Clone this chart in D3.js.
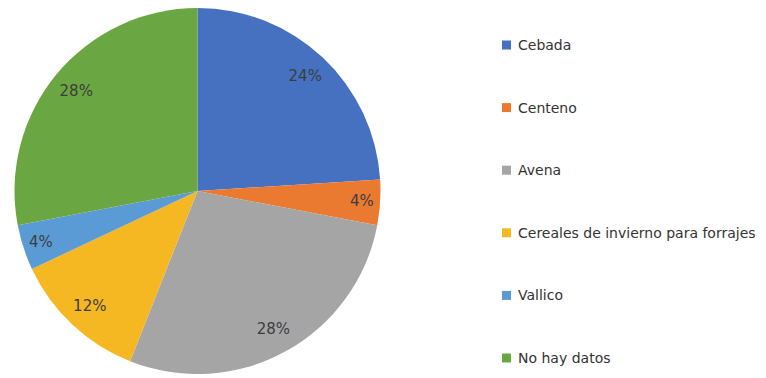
<!DOCTYPE html>
<html>
<head>
<meta charset="utf-8">
<script src="https://cdn.jsdelivr.net/npm/d3@7"></script>
<style>
  html, body { margin: 0; padding: 0; background: #fff; }
  svg text { font-family: "DejaVu Sans", sans-serif; }
</style>
</head>
<body>
<div id="chart"></div>
<script>
// categorías y porcentajes
const categories = ["Cebada", "Centeno", "Avena", "Cereales de invierno para forrajes", "Vallico", "No hay datos"];
const values = [24, 4, 28, 12, 4, 28];
const colors = ["#4670c0", "#ea7a30", "#a5a5a5", "#f5b823", "#5b9bd5", "#6aa743"];

const width = 766, height = 378;
const cx = 197.5, cy = 191, r = 183;

const svg = d3.select("#chart")
    .append("svg")
    .attr("width", width)
    .attr("height", height);

const data = categories.map((c, i) => ({ name: c, value: values[i], color: colors[i] }));

const pie = d3.pie()
    .sort(null)
    .value(d => d.value);

const arc = d3.arc()
    .innerRadius(0)
    .outerRadius(r);

const arcs = pie(data);

const g = svg.append("g")
    .attr("transform", `translate(${cx},${cy})`);

// sectores
g.selectAll("path")
    .data(arcs)
    .enter()
    .append("path")
    .attr("d", arc)
    .attr("fill", d => d.data.color);

// etiquetas: las porciones pequeñas van más hacia el borde
function labelPos(d) {
    const span = d.endAngle - d.startAngle;
    const lr = span < 0.3 ? r * 0.9 : r * 0.86;
    const a = (d.startAngle + d.endAngle) / 2;
    return [Math.sin(a) * lr, -Math.cos(a) * lr];
}

g.selectAll("text.pct")
    .data(arcs)
    .enter()
    .append("text")
    .attr("class", "pct")
    .attr("x", d => labelPos(d)[0])
    .attr("y", d => labelPos(d)[1])
    .attr("text-anchor", "middle")
    .attr("dominant-baseline", "central")
    .attr("font-size", 15)
    .attr("fill", "#3d3d3d")
    .text(d => d.data.value + "%");

// leyenda
const legendY = d3.scalePoint()
    .domain(categories)
    .range([45, 358]);

const legend = svg.append("g")
    .selectAll("g")
    .data(data)
    .enter()
    .append("g")
    .attr("transform", d => `translate(502,${legendY(d.name)})`);

legend.append("rect")
    .attr("x", 0)
    .attr("y", -4.5)
    .attr("width", 9)
    .attr("height", 9)
    .attr("fill", d => d.color);

legend.append("text")
    .attr("x", 16)
    .attr("y", 0)
    .attr("dominant-baseline", "central")
    .attr("font-size", 14)
    .attr("fill", "#333")
    .text(d => d.name);
</script>
</body>
</html>
